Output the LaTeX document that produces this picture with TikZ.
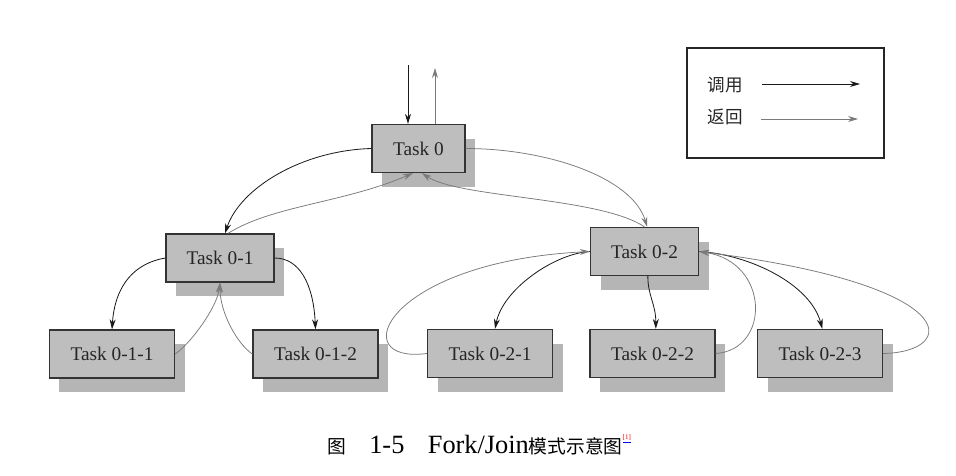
\documentclass[tikz,border=0pt]{standalone}
\usepackage{fontspec}
\setmainfont{Liberation Serif}
\newfontfamily\cjk{Noto Sans CJK SC}
\usetikzlibrary{arrows.meta, shadows}
\definecolor{taskFill}{HTML}{BEBEBE}
\definecolor{taskShadow}{HTML}{B5B5B5}
\definecolor{taskLine}{HTML}{333333}
\definecolor{callBlack}{HTML}{1A1A1A}
\definecolor{returnGrey}{HTML}{7A7A7A}

\begin{document}
\begin{tikzpicture}[x=0.03cm, y=-0.03cm,
  task/.style={draw=taskLine, line width=1.1pt, fill=taskFill, text=black!85,
    minimum height=1.44cm, inner xsep=2pt, font=\fontsize{16.5}{19}\selectfont,
    drop shadow={shadow xshift=0.3cm, shadow yshift=-0.42cm, fill=taskShadow, opacity=1}},
  root/.style={task, minimum width=2.79cm},
  mid/.style={task, minimum width=3.24cm},
  leaf/.style={task, minimum width=3.75cm},
  call/.style={-{Stealth[length=3mm, width=1.8mm]}, line width=0.7pt, callBlack},
  ret/.style={-{Stealth[length=3mm, width=1.8mm]}, line width=0.65pt, returnGrey},
  legend/.style={font=\cjk\fontsize{15}{18}\selectfont, text=black!85}
]
\useasboundingbox (0,0) rectangle (956,475);

% tasks
\node[root] (t0)   at (418.5,148.5) {Task 0};
\node[mid]  (t01)  at (220,258)     {Task 0-1};
\node[mid]  (t02)  at (644.5,251.5) {Task 0-2};
\node[leaf] (t011) at (112,354)     {Task 0-1-1};
\node[leaf] (t012) at (315.5,354)   {Task 0-1-2};
\node[leaf] (t021) at (490,353.5)   {Task 0-2-1};
\node[leaf] (t022) at (652.5,353.5) {Task 0-2-2};
\node[leaf] (t023) at (820,353.5)   {Task 0-2-3};

% entry and exit of Task 0
\coordinate (in0) at (408,65);
\coordinate (out0) at (435,68);
\draw[call] (in0) -- (in0 |- t0.north);
\draw[ret] (out0 |- t0.north) -- (out0);

% fork / join of Task 0
\draw[call] (t0.west) .. controls +(-70,2) and +(15,-45) .. ([xshift=0.15cm]t01.north);
\draw[ret] ([xshift=0.24cm]t01.north) .. controls +(45,-28) and +(-70,30) .. ([xshift=-0.165cm]t0.south);
\draw[ret] (t0.east) .. controls +(80,0) and +(-15,-50) .. ([xshift=0.08cm]t02.north);
\draw[ret] (t02.north) .. controls +(-45,-30) and +(38,25) .. ([xshift=0.1cm]t0.south);

% fork / join of Task 0-1
\draw[call] (t01.west) .. controls +(-30,5) and +(3,-45) .. (t011.north);
\draw[call] (t01.east) .. controls +(25,0) and +(-2,-45) .. (t012.north);
\draw[ret] (t011.east) .. controls +(15,-10) and +(-3,25) .. (t01.south);
\draw[ret] (t012.west) .. controls +(-15,-10) and +(0,30) .. (t01.south);

% fork / join of Task 0-2
\draw[call] (t02.west) .. controls +(-35,2) and +(8,-40) .. ([xshift=0.15cm]t021.north);
\draw[call] ([xshift=0.1cm]t02.south) .. controls +(0,20) and +(0,-25) .. ([xshift=0.1cm]t022.north);
\draw[call] (t02.east) .. controls +(50,3) and +(-12,-45) .. ([xshift=0.07cm]t023.north);
\draw[ret] (t021.west) .. controls +(-83,11) and +(-205,10.5) .. (t02.west);
\draw[ret] (t022.east) .. controls +(55,-3.5) and +(71,10.5) .. (t02.east);
\draw[ret] (t023.east) .. controls +(76,-1.5) and +(266,33.5) .. (t02.east);

% legend
\draw[line width=0.9pt, black!85] (687,48) rectangle (884,158);
\node[legend] (lcall) at (725.5,85) {调用};
\node[legend] (lret) at (725.5,117) {返回};
\coordinate (callA) at (762,84);
\coordinate (callB) at (860,84);
\coordinate (retA) at (761,119);
\coordinate (retB) at (858,119);
\draw[call] (callA) -- (callB);
\draw[ret] (retA) -- (retB);

% caption
\node (caption) at (479,445) {\fontsize{22.5}{26}\selectfont{\cjk\fontsize{16}{18}\selectfont 图}\hspace{20pt}1-5\hspace{20pt}Fork/Join{\cjk\fontsize{16}{18}\selectfont 模式示意图}\raisebox{1.2ex}{\fontsize{6}{6}\selectfont\color{blue}\underline{\color{red}[1]}}};
\end{tikzpicture}
\end{document}
